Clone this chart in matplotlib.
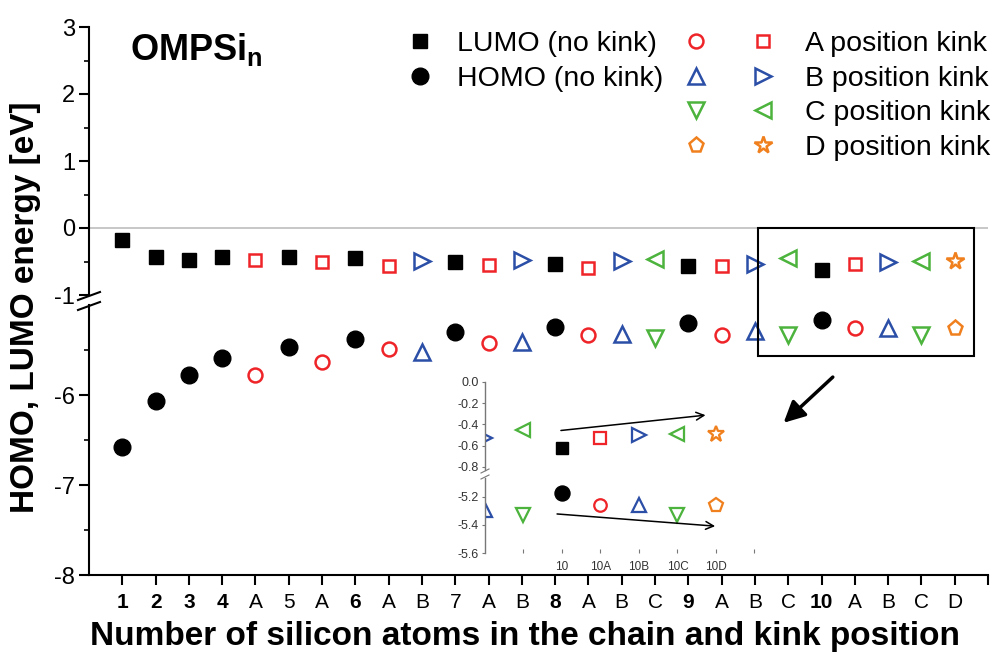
import matplotlib
matplotlib.use('Agg')
import matplotlib.pyplot as plt
from matplotlib.lines import Line2D
from matplotlib.legend_handler import HandlerTuple
from matplotlib.patches import Rectangle

plt.rcParams['font.family'] = ['Liberation Sans', 'DejaVu Sans']
plt.rcParams['mathtext.fontset'] = 'custom'
plt.rcParams['mathtext.bf'] = 'Liberation Sans:bold'
plt.rcParams['mathtext.rm'] = 'Liberation Sans'
plt.rcParams['axes.unicode_minus'] = False

# chain length / kink position along the x axis
labels = ['1', '2', '3', '4', 'A', '5', 'A', '6', 'A', 'B', '7', 'A', 'B',
          '8', 'A', 'B', 'C', '9', 'A', 'B', 'C', '10', 'A', 'B', 'C', 'D']
kinks = ['n', 'n', 'n', 'n', 'A', 'n', 'A', 'n', 'A', 'B', 'n', 'A', 'B',
         'n', 'A', 'B', 'C', 'n', 'A', 'B', 'C', 'n', 'A', 'B', 'C', 'D']
bold_labels = ['1', '2', '3', '4', '6', '8', '9', '10']

# orbital energies [eV]
lumo = [-0.18, -0.43, -0.48, -0.43, -0.48, -0.43, -0.51, -0.45, -0.56, -0.49,
        -0.51, -0.55, -0.48, -0.53, -0.60, -0.49, -0.47, -0.56, -0.57, -0.53,
        -0.45, -0.62, -0.53, -0.50, -0.49, -0.49]
homo = [-6.58, -6.07, -5.78, -5.59, -5.78, -5.47, -5.63, -5.38, -5.49, -5.52,
        -5.30, -5.42, -5.41, -5.24, -5.33, -5.32, -5.37, -5.20, -5.33, -5.29,
        -5.33, -5.17, -5.26, -5.26, -5.33, -5.26]

red = '#ee2428'
blue = '#2b4ea6'
green = '#4cb33d'
orange = '#f0801e'

lumo_style = {
    'n': dict(marker='s', mfc='k', mec='k', ms=10),
    'A': dict(marker='s', mfc='none', mec=red, ms=9, mew=1.8),
    'B': dict(marker='>', mfc='none', mec=blue, ms=11, mew=1.8),
    'C': dict(marker='<', mfc='none', mec=green, ms=11, mew=1.8),
    'D': dict(marker='*', mfc='none', mec=orange, ms=13, mew=1.8),
}
homo_style = {
    'n': dict(marker='o', mfc='k', mec='k', ms=12),
    'A': dict(marker='o', mfc='none', mec=red, ms=10, mew=1.8),
    'B': dict(marker='^', mfc='none', mec=blue, ms=11, mew=1.8),
    'C': dict(marker='v', mfc='none', mec=green, ms=11, mew=1.8),
    'D': dict(marker='p', mfc='none', mec=orange, ms=11, mew=1.8),
}

W, H = 992, 655
fig = plt.figure(figsize=(W / 100, H / 100), dpi=100)


def box(l, t, r, b):
    return [l / W, 1 - b / H, (r - l) / W, (b - t) / H]


def draw_series(ax, values, styles, start=0, scale=1.0):
    for k, st in styles.items():
        idx = [i for i, kk in enumerate(kinks) if kk == k and i >= start]
        st = dict(st)
        st['ms'] = st['ms'] * scale
        if 'mew' in st:
            st['mew'] = st['mew'] * scale
        ax.plot(idx, [values[i] for i in idx], ls='none', **st)


# broken y axis: LUMO part on top, HOMO part below
top = fig.add_axes(box(89, 27, 988, 295))
bot = fig.add_axes(box(89, 305, 988, 575))

top.axhline(0, color='#bdbdbd', lw=1.2, zorder=0)
draw_series(top, lumo, lumo_style)
draw_series(bot, homo, homo_style)

for ax in (top, bot):
    ax.set_xlim(-1, 26)
    ax.spines['top'].set_visible(False)
    ax.spines['right'].set_visible(False)
    ax.spines['left'].set_linewidth(1.5)
    ax.spines['bottom'].set_linewidth(1.5)
    ax.tick_params(axis='y', which='major', length=7, width=1.5, labelsize=17, pad=3)
    ax.tick_params(axis='y', which='minor', length=3.5, width=1.2)
top.spines['bottom'].set_visible(False)

top.set_ylim(-1, 3)
top.set_yticks([-1, 0, 1, 2, 3])
top.set_yticks([-0.5, 0.5, 1.5, 2.5], minor=True)
top.set_xticks([])

bot.set_ylim(-8, -5)
bot.set_yticks([-8, -7, -6])
bot.set_yticks([-7.5, -6.5, -5.5], minor=True)
bot.set_xticks(range(27))
bot.set_xticklabels(labels + [''])
bot.tick_params(axis='x', length=7, width=1.5, labelsize=15, pad=6)
for t in bot.get_xticklabels():
    if t.get_text() in bold_labels:
        t.set_fontweight('bold')

# break marks on the y axis
for yb in (296, 306):
    fig.add_artist(Line2D([78 / W, 100 / W], [1 - (yb + 4) / H, 1 - (yb - 4) / H],
                          color='k', lw=1.5, transform=fig.transFigure))

# frame around the 10-atom chain
x0, y0 = top.transData.transform((19.08, 0))
x1, y1 = bot.transData.transform((25.57, -5.57))
inv = fig.transFigure.inverted()
(fx0, fy0), (fx1, fy1) = inv.transform([(x0, y0), (x1, y1)])
fig.add_artist(Rectangle((fx0, fy1), fx1 - fx0, fy0 - fy1, fill=False,
                         ec='k', lw=1.5, transform=fig.transFigure))

bot.annotate('', xy=(19.8, -6.33), xytext=(21.4, -5.78),
             arrowprops=dict(arrowstyle='-|>', color='k', lw=2.5, mutation_scale=32))

# inset: zoom on n = 10
in_top = fig.add_axes(box(485, 382, 754.5, 470))
in_bot = fig.add_axes(box(485, 478, 754.5, 553))
in_top.patch.set_alpha(0)
in_bot.patch.set_alpha(0)
draw_series(in_top, lumo, lumo_style, start=19, scale=0.9)
draw_series(in_bot, homo, homo_style, start=19, scale=0.9)

for ax in (in_top, in_bot):
    ax.set_xlim(19, 26)
    for s in ('top', 'right', 'bottom'):
        ax.spines[s].set_visible(False)
    ax.spines['left'].set_color('#777777')
    ax.spines['left'].set_linewidth(1)
    ax.tick_params(axis='y', length=2.5, width=0.8, colors='#777777',
                   labelcolor='#333333', labelsize=9, pad=2)
in_top.set_ylim(-0.83, 0)
in_top.set_yticks([0, -0.2, -0.4, -0.6, -0.8])
in_top.set_yticklabels(['0.0', '-0.2', '-0.4', '-0.6', '-0.8'])
in_top.set_xticks([])
in_bot.set_ylim(-5.6, -5.065)
in_bot.set_yticks([-5.2, -5.4, -5.6])
in_bot.set_yticklabels(['-5.2', '-5.4', '-5.6'])
in_bot.set_xticks(range(20, 27))
in_bot.set_xticklabels(['', '10', '10A', '10B', '10C', '10D', ''])
in_bot.tick_params(axis='x', direction='in', length=3, width=0.8, colors='#777777',
                   labelcolor='#333333', labelsize=8.5, pad=6)

for yb in (471, 477):
    fig.add_artist(Line2D([481 / W, 489 / W], [1 - (yb + 2) / H, 1 - (yb - 2) / H],
                          color='#777777', lw=0.8, transform=fig.transFigure))

in_top.annotate('', xy=(24.8, -0.31), xytext=(20.9, -0.46), annotation_clip=False,
                arrowprops=dict(arrowstyle='->', color='k', lw=1.1, mutation_scale=14))
in_bot.annotate('', xy=(25.05, -5.41), xytext=(20.8, -5.32), annotation_clip=False,
                arrowprops=dict(arrowstyle='->', color='k', lw=1.1, mutation_scale=14))

# legends
h1 = [Line2D([], [], ls='none', **lumo_style['n']),
      Line2D([], [], ls='none', **homo_style['n'])]
fig.legend(h1, ['LUMO (no kink)', 'HOMO (no kink)'], loc='upper left',
           bbox_to_anchor=(400 / W, 1 - 31 / H), frameon=False, fontsize=20.5,
           handlelength=1.4, handletextpad=0.6, labelspacing=0.3,
           borderpad=0, borderaxespad=0)

h2 = []
for k in ('A', 'B', 'C', 'D'):
    h2.append((Line2D([], [], ls='none', **homo_style[k]),
               Line2D([], [], ls='none', **lumo_style[k])))
fig.legend(h2, ['A position kink', 'B position kink', 'C position kink', 'D position kink'],
           handler_map={tuple: HandlerTuple(ndivide=None, pad=0)},
           loc='upper left', bbox_to_anchor=(663 / W, 1 - 31 / H), frameon=False,
           fontsize=20.5, handlelength=4.7, handletextpad=0.3, labelspacing=0.3,
           borderpad=0, borderaxespad=0)

fig.text(130 / W, 1 - 50 / H, r'$\mathbf{OMPSi_n}$', fontsize=26, va='center')
fig.text(26 / W, 1 - 307 / H, 'HOMO, LUMO energy [eV]', rotation=90,
         ha='center', va='center', fontsize=24, fontweight='bold')
fig.text(525 / W, 1 - 637 / H, 'Number of silicon atoms in the chain and kink position',
         ha='center', va='center', fontsize=24, fontweight='bold')

fig.savefig('out.png', dpi=100)
